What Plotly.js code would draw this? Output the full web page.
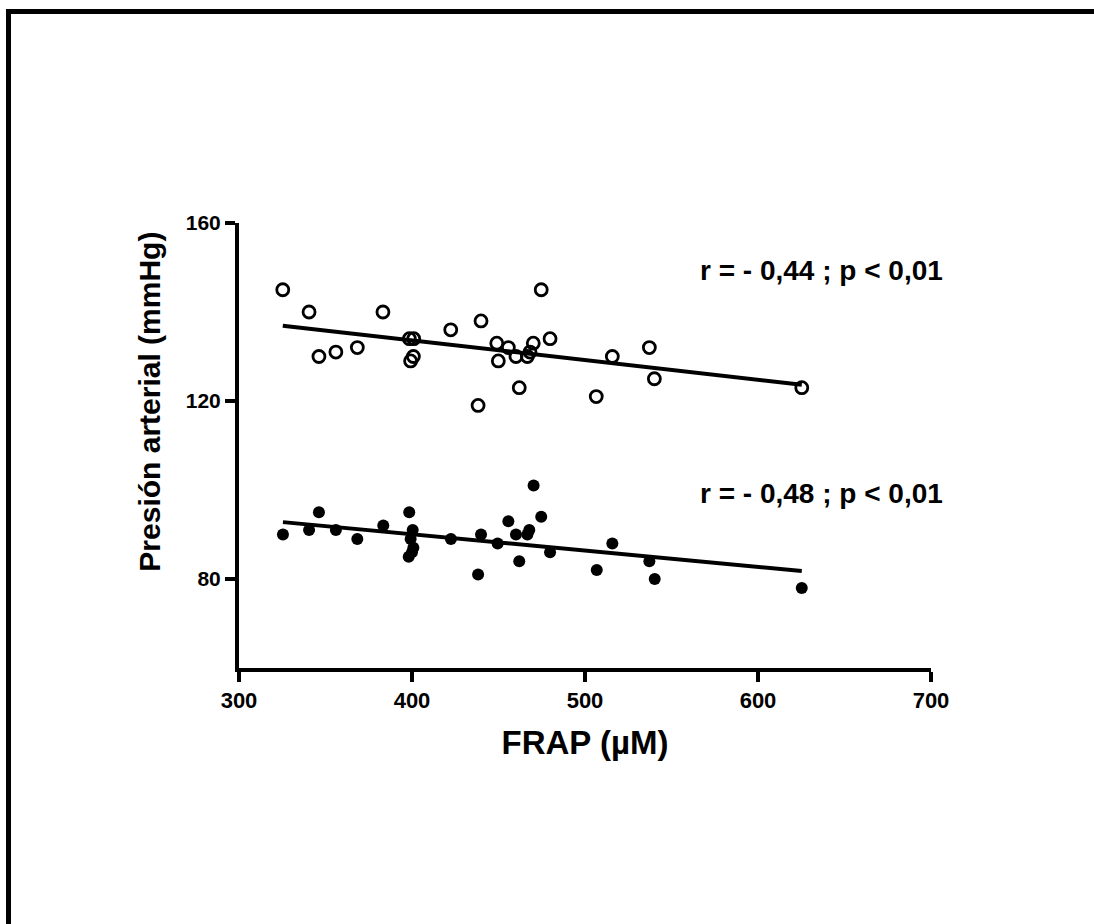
<!DOCTYPE html>
<html>
<head>
<meta charset="utf-8">
<script src="https://cdn.plot.ly/plotly-3.0.1.min.js"></script>
<style>
  html, body { margin: 0; padding: 0; background: #fff; }
  #wrap { position: relative; width: 1094px; height: 924px; overflow: hidden; }
  #chart { position: absolute; left: 0; top: 0; width: 1094px; height: 924px; }
  #frame { position: absolute; left: 6px; top: 9px; width: 1200px; height: 1000px;
           border-left: 5px solid #000; border-top: 5px solid #000; pointer-events: none; z-index: 10; }
</style>
</head>
<body>
<div id="wrap">
  <div id="chart"></div>
  <div id="frame"></div>
</div>
<script>
// FRAP (µM) values and blood pressure (mmHg)
const frapSys = [325.3, 340.5, 346.2, 356, 368.4, 383.2, 398.5, 401, 400.8, 399.2, 422.4, 439.9, 449, 449.9,
                 455.7, 460.1, 466.7, 468.2, 470.1, 474.7, 479.8, 462, 438.2, 506.5, 515.8, 537.2, 540.1, 625.3];
const sistolica = [145, 140, 130, 131, 132, 140, 134, 134, 130, 129, 136, 138, 133, 129,
                   132, 130, 130, 131, 133, 145, 134, 123, 119, 121, 130, 132, 125, 123];

const frapDia = [325.4, 340.5, 346.2, 356, 368.4, 383.4, 398.4, 400.4, 399.2, 400.8, 400, 398.1, 422.5, 439.9,
                 449.5, 455.7, 460.1, 466.7, 467.8, 470.3, 474.7, 479.8, 462, 438.2, 506.8, 515.8, 537.2, 540.3, 625.3];
const diastolica = [90, 91, 95, 91, 89, 92, 95, 91, 89, 87, 86, 85, 89, 90,
                    88, 93, 90, 90, 91, 101, 94, 86, 84, 81, 82, 88, 84, 80, 78];

const xTicks = [300, 400, 500, 600, 700];
const yTicks = [80, 120, 160];
const statLabels = ["r = - 0,44 ; p < 0,01", "r = - 0,48 ; p < 0,01"];
const xTitle = "FRAP (µM)";
const yTitle = "Presión arterial (mmHg)";

function fit(xs, ys) {
  const n = xs.length;
  const mx = xs.reduce((a, b) => a + b, 0) / n;
  const my = ys.reduce((a, b) => a + b, 0) / n;
  let sxy = 0, sxx = 0;
  for (let i = 0; i < n; i++) { sxy += (xs[i] - mx) * (ys[i] - my); sxx += (xs[i] - mx) ** 2; }
  const b = sxy / sxx, a = my - b * mx;
  const x0 = Math.min(...xs), x1 = Math.max(...xs);
  return { x: [x0, x1], y: [a + b * x0, a + b * x1] };
}
const fSys = fit(frapSys, sistolica);
const fDia = fit(frapDia, diastolica);

const F = "Liberation Sans, Arial, Helvetica, sans-serif";

const traces = [
  { x: fSys.x, y: fSys.y, mode: "lines", line: { color: "#000", width: 4 }, hoverinfo: "skip" },
  { x: fDia.x, y: fDia.y, mode: "lines", line: { color: "#000", width: 4 }, hoverinfo: "skip" },
  { x: frapSys, y: sistolica, mode: "markers",
    marker: { symbol: "circle-open", size: 12, color: "#000", line: { color: "#000", width: 2.8 } } },
  { x: frapDia, y: diastolica, mode: "markers",
    marker: { symbol: "circle", size: 12, color: "#000" } }
];

const layout = {
  width: 1094, height: 924,
  showlegend: false,
  paper_bgcolor: "#fff", plot_bgcolor: "#fff",
  margin: { l: 239, r: 163, t: 223, b: 256 },
  font: { family: F, color: "#000" },
  xaxis: {
    range: [300, 700], tickvals: xTicks, ticktext: xTicks.map(String),
    showgrid: false, zeroline: false, showline: true, linewidth: 4, linecolor: "#000",
    ticks: "outside", ticklen: 10, tickwidth: 4, tickcolor: "#000",
    tickfont: { family: F, size: 22, weight: "bold", color: "#000" },
    title: { text: xTitle, font: { family: F, size: 33, weight: "bold", color: "#000" }, standoff: 19 },
    fixedrange: true
  },
  yaxis: {
    range: [60, 160], tickvals: yTicks, ticktext: yTicks.map(String),
    showgrid: false, zeroline: false, showline: true, linewidth: 4, linecolor: "#000",
    ticks: "outside", ticklen: 10, tickwidth: 4, tickcolor: "#000",
    tickfont: { family: F, size: 21, weight: "bold", color: "#000" },
    fixedrange: true
  },
  annotations: [
    { x: 1.0202, y: 0.8938, xref: "paper", yref: "paper", xanchor: "right", yanchor: "middle", showarrow: false,
      text: statLabels[0], font: { family: F, size: 28, weight: "bold", color: "#000" } },
    { x: 1.0202, y: 0.393, xref: "paper", yref: "paper", xanchor: "right", yanchor: "middle", showarrow: false,
      text: statLabels[1], font: { family: F, size: 28, weight: "bold", color: "#000" } },
    { x: -0.1286, y: 0.5985, xref: "paper", yref: "paper", xanchor: "center", yanchor: "middle",
      showarrow: false, textangle: -90,
      text: yTitle, font: { family: F, size: 30, weight: "bold", color: "#000" } }
  ]
};

Plotly.newPlot("chart", traces, layout, { staticPlot: true, displayModeBar: false });
</script>
</body>
</html>
